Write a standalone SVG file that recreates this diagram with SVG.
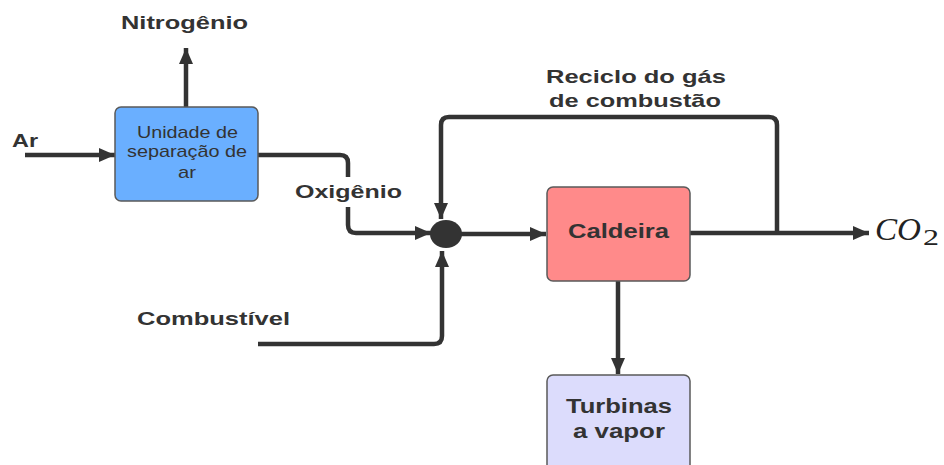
<svg xmlns="http://www.w3.org/2000/svg" width="944" height="465" viewBox="0 0 944 465">
<defs>
<style>
.ln{fill:none;stroke:#333;stroke-width:4.5;stroke-linejoin:round}
.lb{font-family:"Liberation Sans",Arial,sans-serif;font-weight:bold;fill:#333}
.nt{font-family:"Liberation Sans",Arial,sans-serif;fill:#333}
.box{stroke:#5a5a5a;stroke-width:1.5}
</style>
<marker id="ah" viewBox="0 0 16 14" refX="16" refY="7" markerWidth="16" markerHeight="14" markerUnits="userSpaceOnUse" orient="auto">
<path d="M0,0 L16,7 L0,14 Z" fill="#333"/>
</marker>
</defs>
<rect width="944" height="465" fill="#fff"/>
<g id="connectors">
<path class="ln" d="M25,155 H115" marker-end="url(#ah)"/>
<path class="ln" d="M186,107 V48" marker-end="url(#ah)"/>
<path class="ln" d="M258,155 H340 Q348,155 348,163 V225 Q348,233 356,233 H431" marker-end="url(#ah)"/>
<path class="ln" d="M777,233 V125 Q777,117 769,117 H449 Q441,117 441,125 V219" marker-end="url(#ah)"/>
<path class="ln" d="M258,344 H434 Q442,344 442,336 V251" marker-end="url(#ah)"/>
<path class="ln" d="M460,234 H546" marker-end="url(#ah)"/>
<path class="ln" d="M690,233 H869" marker-end="url(#ah)"/>
<path class="ln" d="M618,281 V374" marker-end="url(#ah)"/>
<rect x="292" y="177" width="113" height="30" fill="#fff"/>
<text class="lb" x="295" y="198" font-size="19" textLength="107" lengthAdjust="spacingAndGlyphs">Oxigênio</text>
<text class="lb" x="121" y="29" font-size="19" textLength="127" lengthAdjust="spacingAndGlyphs">Nitrogênio</text>
<text class="lb" x="12" y="147" font-size="18" textLength="26" lengthAdjust="spacingAndGlyphs">Ar</text>
<text class="lb" x="546" y="83" font-size="19" textLength="180" lengthAdjust="spacingAndGlyphs">Reciclo do gás</text>
<text class="lb" x="549" y="107" font-size="19" textLength="172" lengthAdjust="spacingAndGlyphs">de combustão</text>
<text class="lb" x="137" y="325" font-size="19" textLength="153" lengthAdjust="spacingAndGlyphs">Combustível</text>
<text x="875" y="240" font-family="'Liberation Serif','Times New Roman',serif" font-style="italic" font-size="32" fill="#222" textLength="46" lengthAdjust="spacingAndGlyphs">CO</text>
<text x="923" y="245" font-family="'Liberation Serif','Times New Roman',serif" font-size="23" fill="#222" textLength="16" lengthAdjust="spacingAndGlyphs">2</text>
</g>
<ellipse id="mixer" cx="446" cy="234" rx="16" ry="14" fill="#333"/>
<g id="asu">
<rect class="box" x="115" y="107" width="143" height="94" rx="6" fill="#6aafff"/>
<text class="nt" x="137" y="138" font-size="17" textLength="101" lengthAdjust="spacingAndGlyphs">Unidade de</text>
<text class="nt" x="127" y="157" font-size="17" textLength="120" lengthAdjust="spacingAndGlyphs">separação de</text>
<text class="nt" x="178" y="178" font-size="17" textLength="18" lengthAdjust="spacingAndGlyphs">ar</text>
</g>
<g id="caldeira">
<rect class="box" x="547" y="187" width="143" height="94" rx="6" fill="#ff8a8a"/>
<text class="lb" x="568" y="238" font-size="20" textLength="101" lengthAdjust="spacingAndGlyphs">Caldeira</text>
</g>
<g id="turbinas">
<rect class="box" x="547" y="375" width="143" height="100" rx="6" fill="#dcdcfc"/>
<text class="lb" x="566" y="413" font-size="20" textLength="106" lengthAdjust="spacingAndGlyphs">Turbinas</text>
<text class="lb" x="573" y="438" font-size="20" textLength="92" lengthAdjust="spacingAndGlyphs">a vapor</text>
</g>
</svg>
